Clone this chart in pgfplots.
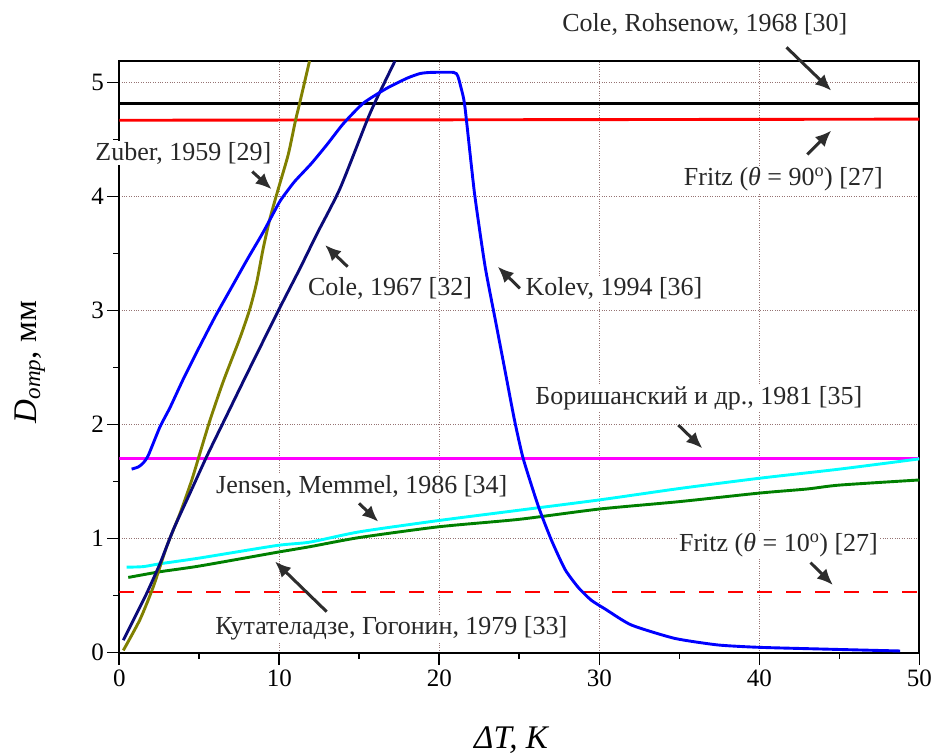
\documentclass[border=0pt]{standalone}
\usepackage{fontspec}
\setmainfont{Liberation Serif}
\usepackage{pgfplots}
\pgfplotsset{compat=1.18}
\usetikzlibrary{arrows.meta}
\definecolor{gridc}{RGB}{150,115,115}
\definecolor{cNavy}{RGB}{10,10,120}
\definecolor{cOlive}{RGB}{128,128,0}
\definecolor{cBlue}{RGB}{0,0,255}
\definecolor{cGreen}{RGB}{0,128,0}
\definecolor{cCyan}{RGB}{0,255,255}
\definecolor{cMag}{RGB}{255,0,255}
\definecolor{cRed}{RGB}{255,0,0}
\definecolor{cArrow}{RGB}{45,45,45}
\definecolor{cText}{RGB}{40,40,40}
\begin{document}
\begin{tikzpicture}
\useasboundingbox (-119.3pt,-101.3pt) rectangle (815.7pt,652.7pt);
\begin{axis}[
  at={(0pt,0pt)}, anchor=south west,
  scale only axis, width=800pt, height=591.7pt,
  xmin=0, xmax=50, ymin=0, ymax=5.19,
  xtick={0,10,...,50}, ytick={0,1,...,5},
  minor x tick num=1, minor y tick num=1,
  tick align=outside, tick pos=left,
  major tick length=12pt, minor tick length=6pt,
  every tick/.style={black, line width=1.6pt},
  grid=major, grid style={dotted, gridc, line width=0.8pt},
  axis line style={line width=1.8pt},
  tick label style={font=\fontsize{25}{30}\selectfont},
  xticklabel style={yshift=-2pt},
  /pgf/number format/assume math mode=true,
  clip mode=individual,
  every axis plot/.append style={line width=2.9pt},
]
% horizontal lines
\addplot[black, line width=3pt] coordinates {(0,4.82) (50,4.82)};
\addplot[cRed] coordinates {(0,4.67) (50,4.68)};
\addplot[cMag] coordinates {(0,1.70) (50,1.70)};
\addplot[cRed, dash pattern=on 15pt off 14pt] coordinates {(0,0.532) (50,0.532)};
% Kutateladze (green)
\addplot[cGreen, smooth, tension=0.4] coordinates {(0.56,0.66) (2.54,0.71) (5,0.76) (9.83,0.88) (11.92,0.93) (15,1.01) (20,1.105) (25,1.17) (30,1.26) (35,1.325) (40,1.40) (43,1.436) (45,1.47) (50,1.515)};
% Jensen (cyan)
\addplot[cCyan, smooth, tension=0.4] coordinates {(0.46,0.75) (1.5,0.755) (2.54,0.78) (5,0.83) (9.83,0.94) (11.92,0.97) (15,1.06) (20,1.16) (25,1.25) (30,1.34) (35,1.44) (40,1.53) (45,1.61) (50,1.70)};
% Zuber (olive)
\addplot[cOlive, smooth, tension=0.4] coordinates {(0.25,0.02) (1.29,0.29) (2.13,0.58) (2.96,0.93) (3.79,1.22) (4.52,1.51) (5.04,1.75) (5.67,2.04) (6.5,2.38) (7.54,2.76) (8.17,3.02) (8.59,3.25) (9.0,3.55) (9.42,3.81) (9.94,4.07) (10.56,4.37) (11.0,4.66) (11.29,4.83) (11.89,5.19)};
% Cole 1967 (navy)
\addplot[cNavy, smooth, tension=0.4] coordinates {(0.25,0.11) (1.09,0.345) (1.71,0.52) (2.54,0.78) (3.38,1.08) (4.42,1.40) (5.46,1.72) (6.5,2.02) (7.96,2.44) (9.94,3.0) (11.29,3.37) (12.34,3.67) (13.79,4.07) (15.46,4.66) (16.09,4.86) (17.23,5.19)};
% Kolev (blue)
\addplot[cBlue, smooth, tension=0.35] coordinates {(0.77,1.61) (1.2,1.63) (1.5,1.665) (1.81,1.73) (2.54,1.98) (3.17,2.15) (4,2.40) (5,2.68) (6,2.95) (7,3.20) (8,3.45) (9,3.69) (10,3.95) (10.5,4.05) (11,4.14) (12,4.29) (13,4.46) (14,4.64) (15.25,4.82) (16.71,4.95) (18.0,5.04) (18.8,5.08) (19.5,5.09) (20.9,5.09) (21.15,5.06) (21.35,4.96) (21.6,4.79) (22.2,4.03) (22.86,3.39) (23.5,2.92) (24.1,2.48) (24.7,2.04) (25.25,1.70) (26.2,1.28) (27.0,0.99) (27.86,0.73) (28.7,0.57) (29.5,0.46) (30.4,0.38) (32.0,0.243) (34.7,0.126) (37.4,0.068) (40,0.047) (44.5,0.03) (48.8,0.015)};
% labels
\tikzset{lab/.style={fill=white, inner sep=1pt, text=cText, font=\fontsize{26}{31}\selectfont},
         arr/.style={cArrow, line width=3pt, -{Latex[length=16pt,width=14pt]}}}
\node[lab] at (axis cs:36.6,5.51) {Cole, Rohsenow, 1968 [30]};
\node[lab] at (axis cs:41.5,4.15) {Fritz (\textit{θ} = 90\textsuperscript{o}) [27]};
\node[lab] at (axis cs:4.0,4.38) {Zuber, 1959 [29]};
\node[lab] at (axis cs:16.92,3.196) {Cole, 1967 [32]};
\node[lab] at (axis cs:30.92,3.196) {Kolev, 1994 [36]};
\node[lab] at (axis cs:36.22,2.23) {Боришанский и др., 1981 [35]};
\node[lab] at (axis cs:15.15,1.456) {Jensen, Memmel, 1986 [34]};
\node[lab] at (axis cs:41.2,0.945) {Fritz (\textit{θ} = 10\textsuperscript{o}) [27]};
\node[lab] at (axis cs:17.0,0.214) {Кутателадзе, Гогонин, 1979 [33]};
\draw[arr] (axis cs:41.7,5.31) -- (axis cs:44.5,4.93);
\draw[arr] (axis cs:43.0,4.37) -- (axis cs:44.5,4.58);
\draw[arr] (axis cs:8.31,4.22) -- (axis cs:9.52,4.065);
\draw[arr] (axis cs:14.27,3.386) -- (axis cs:12.86,3.576);
\draw[arr] (axis cs:25.04,3.196) -- (axis cs:23.65,3.386);
\draw[arr] (axis cs:34.94,1.997) -- (axis cs:36.44,1.793);
\draw[arr] (axis cs:14.98,1.31) -- (axis cs:16.19,1.149);
\draw[arr] (axis cs:12.96,0.36) -- (axis cs:9.73,0.80);
\draw[arr] (axis cs:43.2,0.79) -- (axis cs:44.6,0.594);
% axis labels
\node[font=\fontsize{33}{38}\selectfont\itshape] at (axis cs:24.48,-0.766) {ΔT, К};
\node[font=\fontsize{33}{38}\selectfont, rotate=90] at (axis cs:-5.58,2.55) {\textit{D}\textsubscript{\textit{отр}}, мм};
\end{axis}
\end{tikzpicture}
\end{document}
